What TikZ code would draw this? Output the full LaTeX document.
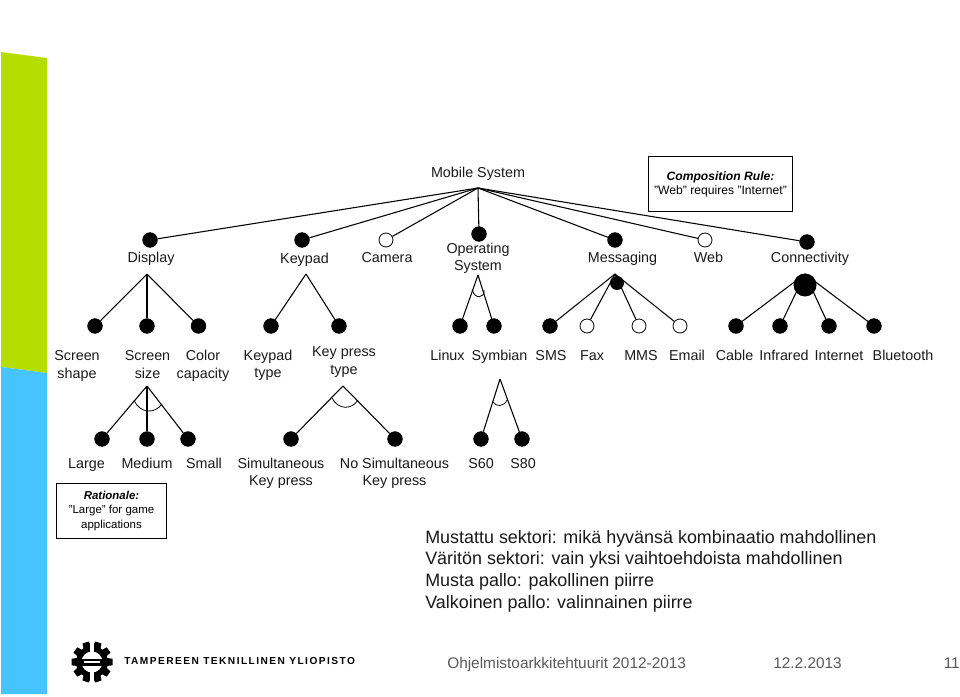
\documentclass[tikz,border=0pt]{standalone}
\usepackage{fontspec}
\setmainfont{Liberation Sans}
\usetikzlibrary{calc}
\definecolor{sidegreen}{HTML}{B5DD00}
\definecolor{sideblue}{HTML}{45C4FF}
\definecolor{footgray}{HTML}{595959}
\newcommand\onel[1]{\strut #1}
\newcommand\twol[2]{\strut #1\\\strut #2}
\tikzset{
  full/.style={circle,fill=black,draw=black,line width=0.5pt,minimum size=11pt,inner sep=0pt},
  opt/.style={circle,fill=white,draw=black,line width=0.6pt,minimum size=10.5pt,inner sep=0pt},
  lab/.style={inner sep=0pt,align=center,yshift=-1.5pt,font=\fontsize{10.75}{13.1}\selectfont,text=black!90},
  conn/.style={draw=black,line width=0.8pt},
  note/.style={draw=black,line width=0.7pt,fill=white,inner sep=0pt,align=center,font=\fontsize{9.1}{10.6}\selectfont},
  footer/.style={inner sep=0pt,text=footgray,font=\fontsize{11.55}{14}\selectfont},
}
\begin{document}
\begin{tikzpicture}[x=0.75pt,y=-0.75pt]
\useasboundingbox (0,0) rectangle (960,696);
% side band
\fill[sidegreen] (1,52) -- (47,58) -- (47,373) -- (1,367) -- cycle;
\fill[sideblue] (1,367) -- (47,373) -- (47,694) -- (1,694) -- cycle;
% apexes
\coordinate (root) at (478,188);
\coordinate (adisp) at (147,274);
\coordinate (akey) at (306,274);
\coordinate (aos) at (478,275);
\coordinate (amsg) at (615,274);
\coordinate (acon) at (805,274);
\coordinate (asize) at (147,386);
\coordinate (apress) at (343,386);
\coordinate (asym) at (500,379);
% sectors
\fill[black] (617,283) circle[radius=7];
\fill[black] (805,285) circle[radius=11.5];
\fill[black] (acon) -- (797,279) -- (813,279) -- cycle;
% level 1 nodes
\node[full] (display) at (150,240) {};
\node[full] (keypad) at (302,240) {};
\node[opt] (camera) at (386,240) {};
\node[full] (os) at (479,234) {};
\node[full] (messaging) at (615,240) {};
\node[opt] (web) at (705,240) {};
\node[full] (connectivity) at (807,242) {};
% level 2 nodes
\node[full] (sshape) at (95,326) {};
\node[full] (ssize) at (147,326) {};
\node[full] (ccap) at (198.5,326) {};
\node[full] (ktype) at (271,326) {};
\node[full] (kpress) at (339,326) {};
\node[full] (linux) at (460,326) {};
\node[full] (symbian) at (494,326) {};
\node[full] (sms) at (550,326) {};
\node[opt] (fax) at (587,326) {};
\node[opt] (mms) at (639,326) {};
\node[opt] (email) at (680,326) {};
\node[full] (cable) at (736,326) {};
\node[full] (infrared) at (780,326) {};
\node[full] (internet) at (829,326) {};
\node[full] (bluetooth) at (874,326) {};
% level 3 nodes
\node[full] (large) at (102,439) {};
\node[full] (medium) at (147,439) {};
\node[full] (small) at (188,439) {};
\node[full] (simul) at (291,439) {};
\node[full] (nosimul) at (395,439) {};
\node[full] (ssixty) at (481,439) {};
\node[full] (seighty) at (522,439) {};
% connectors
\foreach \c in {display,keypad,camera,os,messaging,web,connectivity}
  \draw[conn] (root) -- (\c);
\foreach \c in {sshape,ssize,ccap} \draw[conn] (adisp) -- (\c);
\foreach \c in {ktype,kpress} \draw[conn] (akey) -- (\c);
\foreach \c in {linux,symbian} \draw[conn] (aos) -- (\c);
\foreach \c in {sms,fax,mms,email} \draw[conn] (amsg) -- (\c);
\foreach \c in {cable,infrared,internet,bluetooth} \draw[conn] (acon) -- (\c);
\foreach \c in {large,medium,small} \draw[conn] (asize) -- (\c);
\foreach \c in {simul,nosimul} \draw[conn] (apress) -- (\c);
\foreach \c in {ssixty,seighty} \draw[conn] (asym) -- (\c);
% open sectors
\draw[line width=0.6pt] (472.5,290) .. controls (474,299) and (485,299) .. (484,290);
\draw[line width=0.6pt] (134,400) .. controls (140,414) and (155,414) .. (162,404);
\draw[line width=0.6pt] (332,398) .. controls (338,410) and (352,410) .. (358,400);
\draw[line width=0.6pt] (493,402) .. controls (496,407) and (504,407) .. (507,400);
% labels
\node[lab] (tmobile) at (478,172.5) {\onel{Mobile System}};
\node[lab] (tdisplay) at (151,257) {\onel{Display}};
\node[lab] (tkeypad) at (304.5,258) {\onel{Keypad}};
\node[lab] (tcamera) at (387,257) {\onel{Camera}};
\node[lab] (tos) at (478,256.5) {\twol{Operating}{System}};
\node[lab] (tmsg) at (622.5,257) {\onel{Messaging}};
\node[lab] (tweb) at (708.5,257) {\onel{Web}};
\node[lab] (tcon) at (810,257) {\onel{Connectivity}};
\node[lab] (l1) at (77,364) {\twol{Screen}{shape}};
\node[lab] (l2) at (147.5,364) {\twol{Screen}{size}};
\node[lab] (l3) at (203,364) {\twol{Color}{capacity}};
\node[lab] (l4) at (268,363.5) {\twol{Keypad}{type}};
\node[lab] (l5) at (344,360) {\twol{Key press}{type}};
\node[lab] (l6) at (447.5,355) {\onel{Linux}};
\node[lab] (l7) at (499.5,355) {\onel{Symbian}};
\node[lab] (l8) at (551,355) {\onel{SMS}};
\node[lab] (l9) at (592,355) {\onel{Fax}};
\node[lab] (l10) at (641,355) {\onel{MMS}};
\node[lab] (l11) at (687,355) {\onel{Email}};
\node[lab] (l12) at (734.5,355) {\onel{Cable}};
\node[lab] (l13) at (784,355) {\onel{Infrared}};
\node[lab] (l14) at (839,355) {\onel{Internet}};
\node[lab] (l15) at (903,355) {\onel{Bluetooth}};
\node[lab] (m1) at (86.5,463) {\onel{Large}};
\node[lab] (m2) at (147,463) {\onel{Medium}};
\node[lab] (m3) at (204,463) {\onel{Small}};
\node[lab] (m4) at (281,471.5) {\twol{Simultaneous}{Key press}};
\node[lab] (m5) at (394.5,471.5) {\twol{No Simultaneous}{Key press}};
\node[lab] (m6) at (481,463) {\onel{S60}};
\node[lab] (m7) at (523,463) {\onel{S80}};
% notes
\node[note,minimum width=108.5pt,minimum height=41pt] (rule) at (720.5,184)
  {{\bfseries\itshape Composition Rule:}\\”Web” requires ”Internet”};
\node[note,minimum width=83pt,minimum height=41pt,font=\fontsize{8.6}{10.8}\selectfont] (rationale) at (111.5,511)
  {{\bfseries\itshape Rationale:}\\”Large” for game\\applications};
% legend
\node[inner sep=0pt,anchor=west,align=left,text=black!90,font=\fontsize{13.45}{16.3}\selectfont] (legend) at (425,571)
  {Mustattu sektori: mikä hyvänsä kombinaatio mahdollinen\\
   Väritön sektori: vain yksi vaihtoehdoista mahdollinen\\
   Musta pallo: pakollinen piirre\\
   Valkoinen pallo: valinnainen piirre};
% footer
\node[footer,anchor=west] (course) at (447,664.5) {Ohjelmistoarkkitehtuurit 2012-2013};
\node[footer,anchor=west] (date) at (773,663) {12.2.2013};
\node[footer,anchor=east] (page) at (960,663) {11};
\node[inner sep=0pt,anchor=west,font=\fontsize{7.6}{9}\bfseries\selectfont] (univ) at (124,661.5)
  {\addfontfeature{LetterSpace=14.6}TAMPEREEN TEKNILLINEN YLIOPISTO};
% logo
\begin{scope}[shift={(92,662)}]
  \fill[black] (0,0) circle[radius=16];
  \foreach \a in {0,36,...,324}
    \fill[black,rotate=\a] (14,-4.2) -- (20.5,-3.2) -- (20.5,3.2) -- (14,4.2) -- cycle;
  \fill[white] (0,0) circle[radius=10.5];
  \fill[black] (-16,-3.5) rectangle (16,3.5);
  \fill[white] (-1.8,-23) rectangle (1.8,-6);
  \fill[white] (-1.8,6) rectangle (1.8,23);
  \fill[white] (-8,-0.8) rectangle (8,0.8);
\end{scope}
\end{tikzpicture}
\end{document}
